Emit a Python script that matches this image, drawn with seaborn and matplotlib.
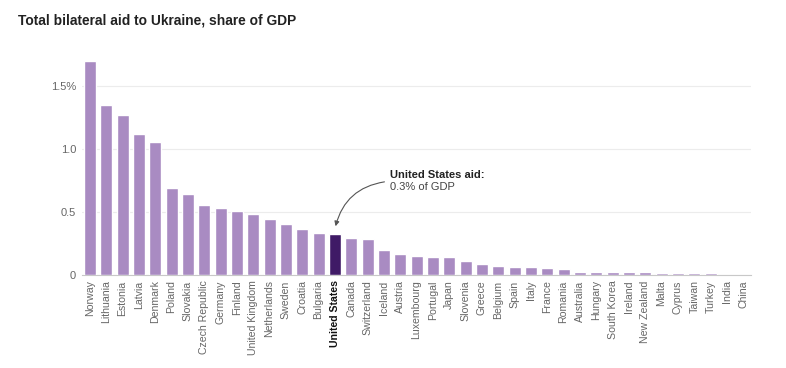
import pandas as pd
import seaborn as sns
import matplotlib.pyplot as plt

paises = ["Norway", "Lithuania", "Estonia", "Latvia", "Denmark", "Poland", "Slovakia",
          "Czech Republic", "Germany", "Finland", "United Kingdom", "Netherlands", "Sweden",
          "Croatia", "Bulgaria", "United States", "Canada", "Switzerland", "Iceland", "Austria",
          "Luxembourg", "Portugal", "Japan", "Slovenia", "Greece", "Belgium", "Spain", "Italy",
          "France", "Romania", "Australia", "Hungary", "South Korea", "Ireland", "New Zealand",
          "Malta", "Cyprus", "Taiwan", "Turkey", "India", "China"]
ayuda_pib = [1.695, 1.345, 1.268, 1.115, 1.05, 0.686, 0.64,
             0.55, 0.53, 0.51, 0.48, 0.44, 0.40,
             0.364, 0.332, 0.324, 0.293, 0.282, 0.194, 0.163,
             0.148, 0.14, 0.145, 0.113, 0.085, 0.074, 0.063, 0.063,
             0.055, 0.045, 0.026, 0.024, 0.026, 0.019, 0.019,
             0.015, 0.013, 0.013, 0.013, 0.001, 0.001]
ticks_y = [0, 0.5, 1.0, 1.5]
etiquetas_y = ["0", "0.5", "1.0", "1.5%"]
destacado = "United States"

df = pd.DataFrame({"pais": paises, "ayuda": ayuda_pib})
colores = {p: ("#3f1a66" if p == destacado else "#a98bc2") for p in paises}

sns.set_style("white")
plt.rcParams["font.family"] = ["Liberation Sans", "DejaVu Sans"]

fig = plt.figure(figsize=(7.86, 3.68), dpi=100)
ax = fig.add_axes([0.104, 0.253, 0.852, 0.597])

sns.barplot(data=df, x="pais", y="ayuda", hue="pais", palette=colores,
            legend=False, width=0.74, ax=ax, saturation=1, zorder=3)

ax.set_ylim(0, 1.74)
ax.set_yticks(ticks_y)
ax.set_yticklabels(etiquetas_y, color="#666666", fontsize=8)
ax.yaxis.grid(True, color="#ececec", linewidth=0.8)
ax.set_axisbelow(True)
for s in ["top", "right", "left"]:
    ax.spines[s].set_visible(False)
ax.spines["bottom"].set_color("#c8c8c8")
ax.spines["bottom"].set_zorder(1)
ax.tick_params(axis="both", length=0, pad=4)
ax.set_xlabel("")
ax.set_ylabel("")
ax.set_xticks(range(len(paises)))
ax.set_xticklabels(paises, rotation=90, fontsize=7.6, color="#666666")
for lbl in ax.get_xticklabels():
    if lbl.get_text() == destacado:
        lbl.set_color("#111111")
        lbl.set_fontweight("bold")

i_us = paises.index(destacado)
ax.annotate("", xy=(i_us, ayuda_pib[i_us] + 0.04), xytext=(i_us + 3.2, 0.74),
            arrowprops=dict(arrowstyle="-|>", color="#555555", lw=0.8,
                            connectionstyle="arc3,rad=0.35", mutation_scale=7))
ax.text(i_us + 3.4, 0.79, "United States aid:", fontsize=8, fontweight="bold",
        color="#222222", va="center")
ax.text(i_us + 3.4, 0.70, "0.3% of GDP", fontsize=8, color="#444444", va="center")

fig.text(0.023, 0.945, "Total bilateral aid to Ukraine, share of GDP",
         fontsize=9.9, fontweight="bold", color="#222222", va="center")

fig.savefig("out.png", dpi=100, facecolor="white")
